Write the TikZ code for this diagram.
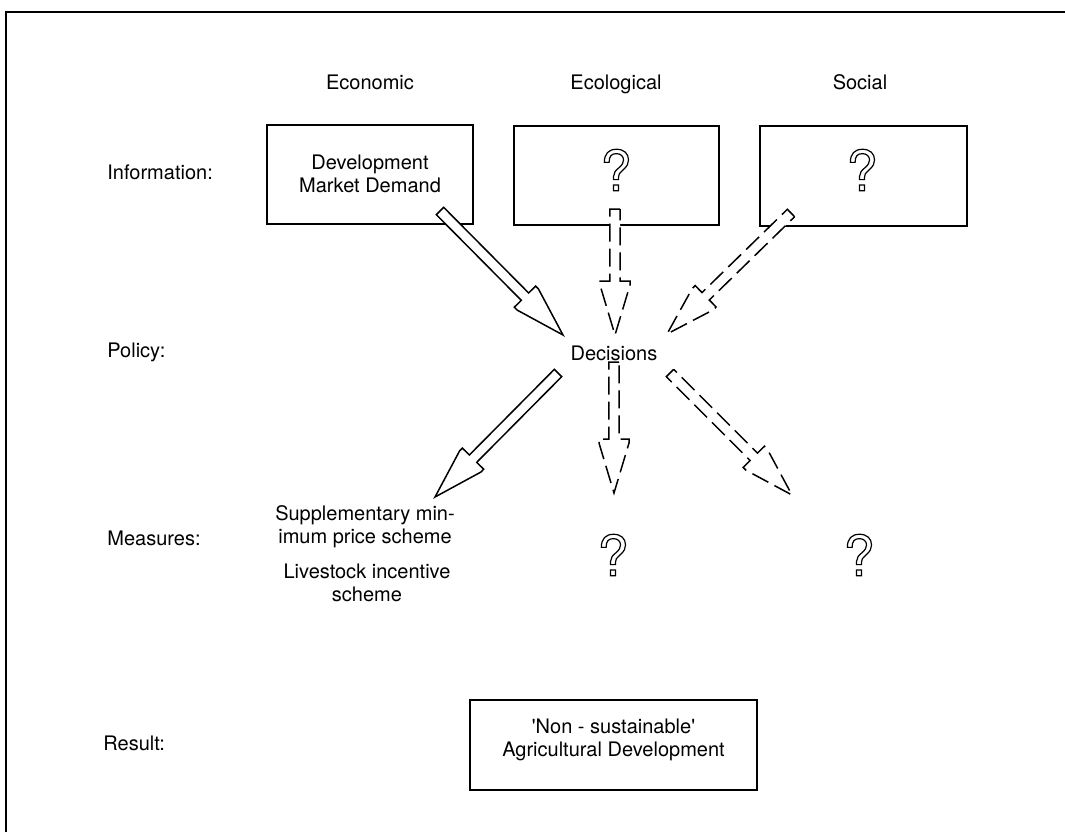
\documentclass[tikz,border=0pt]{standalone}
\usepackage{fontspec}
\setmainfont{TeX Gyre Heros}
\newfontfamily\rawheros{TeX Gyre Heros}
\newcommand\sq{{\rawheros'}}
\newcommand\outq{\special{pdf:literal direct 1 Tr 0.6 w}?\special{pdf:literal direct 0 Tr}}
\newcommand\blockarrow[3][]{%
  \pgfpointdiff{\pgfpointanchor{#2}{center}}{\pgfpointanchor{#3}{center}}%
  \pgfgetlastxy\bdx\bdy
  \pgfmathsetmacro\bang{atan2(\bdy,\bdx)}%
  \pgfmathsetmacro\blen{veclen(\bdx,\bdy)}%
  \begin{scope}[shift={(#2)},rotate=\bang]
    \path[#1] (0pt,2.6pt) -- (0pt,-2.6pt) -- (\blen pt-27pt,-2.6pt)
      -- (\blen pt-27pt,-7.5pt) -- (\blen pt-25pt,-7.5pt) -- (\blen pt,0pt)
      -- (\blen pt-25pt,7.5pt) -- (\blen pt-27pt,7.5pt)
      -- (\blen pt-27pt,2.6pt) -- cycle;
  \end{scope}}
\begin{document}
\begin{tikzpicture}[x=0.5pt,y=-0.5pt,
  lbl/.style={font=\fontsize{10}{11.5}\selectfont, inner sep=0pt},
  txt/.style={font=\fontsize{10}{11.5}\selectfont, align=center, inner sep=0pt},
  box/.style={draw, line width=1pt, inner sep=0pt},
  qmark/.style={font=\fontsize{28}{28}\selectfont, inner sep=0pt},
  solidarrow/.style={draw, fill=white, line width=0.75pt, line join=miter},
  dasharrow/.style={solidarrow, dash pattern=on 9pt off 3.5pt}]
\useasboundingbox (0,0) rectangle (1065,832);
\draw[line width=0.9pt] (6,832) -- (6,12) -- (1065,12);

% column headings
\node[lbl, anchor=base] (hEco) at (370,89) {Economic};
\node[lbl, anchor=base] (hEcol) at (616,89) {Ecological};
\node[lbl, anchor=base] (hSoc) at (860,89) {Social};

% row labels
\node[lbl, anchor=west] (rInfo) at (107,172) {Information:};
\node[lbl, anchor=west] (rPol) at (107,352) {Policy:};
\node[lbl, anchor=west] (rMeas) at (107,538) {Measures:};
\node[lbl, anchor=west] (rRes) at (103,743) {Result:};

% information boxes
\node[box, minimum width=103pt, minimum height=49.5pt] (ecoBox) at (370,174.5) {};
\node[box, minimum width=102.5pt, minimum height=49.5pt] (ecolBox) at (616.5,175.5) {};
\node[box, minimum width=103.5pt, minimum height=50pt] (socBox) at (863.5,176) {};
\node[txt] (ecoTxt) at (370,174) {Development\\Market Demand};
\node[qmark] (ecolQ) at (616,170) {\outq};
\node[qmark] (socQ) at (862,170) {\outq};

% policy
\node[txt] (dec) at (614,353) {Decisions};

% measures
\node[txt] (meas1) at (365,527) {Supplementary min-\\imum price scheme};
\node[txt] (meas2) at (367,583) {Livestock incentive\\scheme};
\node[qmark] (ecolM) at (613,555) {\outq};
\node[qmark] (socM) at (859,555) {\outq};

% result
\node[box, minimum width=143.5pt, minimum height=45pt] (resBox) at (613.5,745) {};
\node[txt] (resTxt) at (613.5,740) {\sq Non - sustainable\sq\\Agricultural Development};

% arrow end points
\coordinate (a1t) at (440,211);  \coordinate (a1h) at (563,335);
\coordinate (a2t) at (615,209);  \coordinate (a2h) at (615,335);
\coordinate (a3t) at (791,213);  \coordinate (a3h) at (667,334);
\coordinate (b1t) at (558,373);  \coordinate (b1h) at (435,497);
\coordinate (b2t) at (614,362);  \coordinate (b2h) at (614,493);
\coordinate (b3t) at (670,373);  \coordinate (b3h) at (792,495);

\blockarrow[solidarrow]{a1t}{a1h}
\blockarrow[dasharrow]{a2t}{a2h}
\blockarrow[dasharrow]{a3t}{a3h}
\blockarrow[solidarrow]{b1t}{b1h}
\blockarrow[dasharrow]{b2t}{b2h}
\blockarrow[dasharrow]{b3t}{b3h}
\end{tikzpicture}
\end{document}
